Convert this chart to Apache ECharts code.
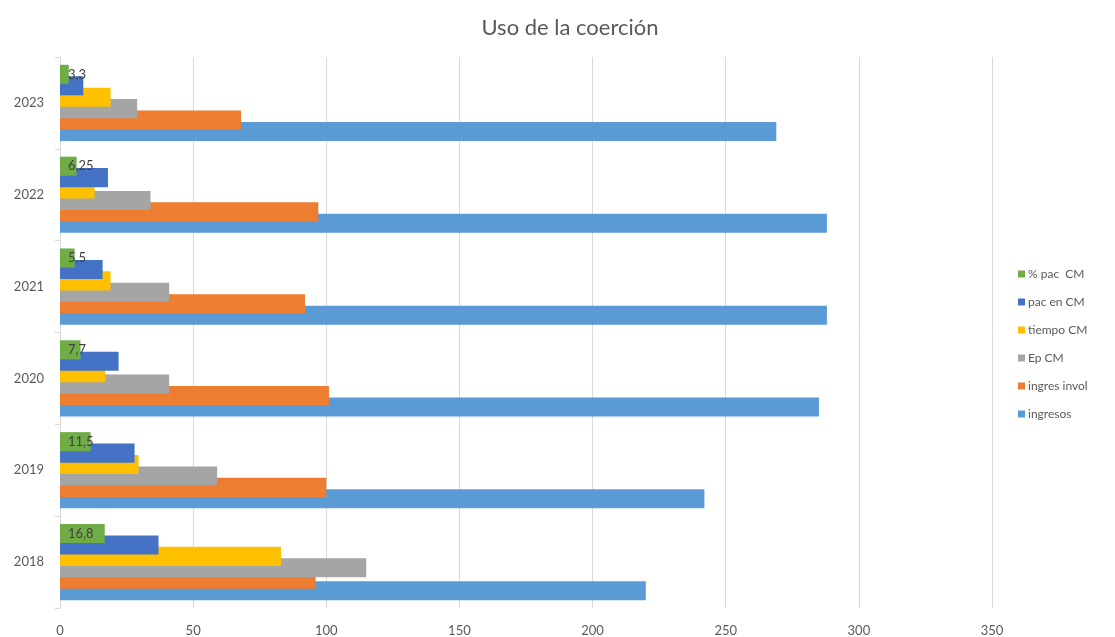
<!DOCTYPE html>
<html>
<head>
<meta charset="utf-8">
<script src="https://cdn.jsdelivr.net/npm/echarts@6/dist/echarts.min.js"></script>
<style>
  html, body { margin: 0; padding: 0; background: #fff; }
  #chart { width: 1115px; height: 637px; }
</style>
</head>
<body>
<div id="chart"></div>
<script>
// Years, bottom to top
const years = ['2018', '2019', '2020', '2021', '2022', '2023'];

// One array per indicator, in the same order as years
const ingresos     = [220, 242, 285, 288, 288, 269];
const ingresInvol  = [96, 100, 101, 92, 97, 68];
const epCM         = [115, 59, 41, 41, 34, 29];
const tiempoCM     = [83, 29.5, 17, 19, 13, 19];
const pacEnCM      = [37, 28, 22, 16, 18, 8.75];
const pctPacCM     = [16.8, 11.5, 7.7, 5.5, 6.25, 3.3];

const xTicks = { min: 0, max: 350, interval: 50 };

// Listed top to bottom within each year group; upper bars overlap lower ones
const seriesDefs = [
  { name: '% pac  CM',    data: pctPacCM,    color: '#70AD47', labelled: true },
  { name: 'pac en CM',    data: pacEnCM,     color: '#4472C4' },
  { name: 'tiempo CM',    data: tiempoCM,    color: '#FFC000' },
  { name: 'Ep CM',        data: epCM,        color: '#A5A5A5' },
  { name: 'ingres invol', data: ingresInvol, color: '#ED7D31' },
  { name: 'ingresos',     data: ingresos,    color: '#5B9BD5' }
];

const font = 'Lato, "Open Sans", sans-serif';
const chart = echarts.init(document.getElementById('chart'), null, { renderer: 'canvas' });

chart.setOption({
  animation: false,
  backgroundColor: '#ffffff',
  title: {
    text: 'Uso de la coerción',
    left: 565,
    textAlign: 'center',
    top: 12,
    textStyle: { color: '#595959', fontSize: 22, fontWeight: 'normal', fontFamily: font }
  },
  legend: {
    orient: 'vertical',
    left: 1013,
    top: 263,
    itemWidth: 7,
    itemHeight: 7,
    itemGap: 16,
    icon: 'rect',
    data: seriesDefs.map(s => s.name),
    textStyle: { color: '#595959', fontSize: 12, fontFamily: font, padding: [0, 0, 0, -2] }
  },
  grid: { left: 60, right: 123, top: 57, bottom: 29, containLabel: false },
  xAxis: {
    type: 'value',
    min: xTicks.min,
    max: xTicks.max,
    interval: xTicks.interval,
    axisLine: { show: false },
    axisTick: { show: false },
    axisLabel: { color: '#595959', fontSize: 13, fontFamily: font, margin: 16 },
    splitLine: { show: true, lineStyle: { color: '#D9D9D9', width: 1 } }
  },
  yAxis: {
    type: 'category',
    data: years,
    axisLine: { show: true, lineStyle: { color: '#D9D9D9', width: 1 } },
    axisTick: { show: true, length: 5, lineStyle: { color: '#D9D9D9' } },
    axisLabel: { color: '#595959', fontSize: 13, fontFamily: font, margin: 16 },
    splitLine: { show: false }
  },
  series: seriesDefs.map((s, i) => ({
    name: s.name,
    type: 'bar',
    data: s.data,
    z: 2 + (seriesDefs.length - i),
    barGap: '-40%',
    barCategoryGap: '17%',
    itemStyle: { color: s.color },
    label: s.labelled ? {
      show: true,
      position: 'insideLeft',
      distance: 8,
      color: '#404040',
      fontSize: 13,
      fontFamily: font,
      formatter: p => String(p.value).replace('.', ',')
    } : { show: false }
  }))
});
</script>
</body>
</html>
